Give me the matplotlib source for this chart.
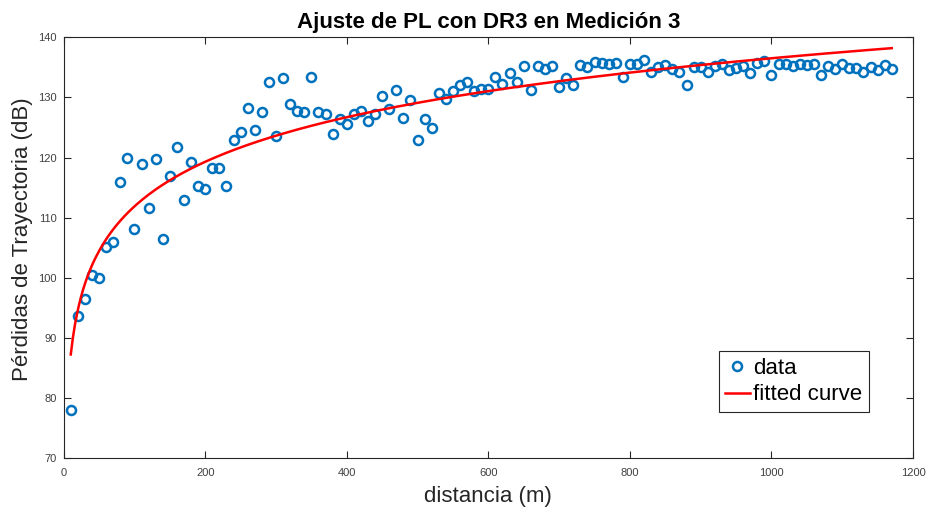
import numpy as np
import matplotlib.pyplot as plt

plt.rcParams['font.family'] = ['Liberation Sans', 'DejaVu Sans']

# distance (m) and measured path loss (dB)
dist = np.arange(10, 1171, 10)
pl = [78.0, 93.7, 96.5, 100.4, 99.9, 105.2, 106.0, 116.0, 120.0, 108.1,
      118.9, 111.7, 119.8, 106.4, 117.0, 121.7, 112.9, 119.3, 115.2, 114.7,
      118.2, 118.2, 115.3, 122.9, 124.3, 128.3, 124.6, 127.6, 132.6, 123.6,
      133.3, 128.9, 127.7, 127.6, 133.4, 127.6, 127.2, 124.0, 126.4, 125.6,
      127.2, 127.7, 126.1, 127.3, 130.3, 128.0, 131.2, 126.6, 129.5, 122.9,
      126.4, 124.9, 130.8, 129.7, 131.0, 132.0, 132.6, 131.0, 131.4, 131.4,
      133.4, 132.2, 134.1, 132.5, 135.2, 131.2, 135.2, 134.8, 135.3, 131.7,
      133.3, 132.0, 135.4, 135.0, 135.9, 135.8, 135.5, 135.8, 133.4, 135.6,
      135.6, 136.3, 134.2, 135.1, 135.4, 134.8, 134.2, 132.0, 135.1, 135.1,
      134.2, 135.3, 135.6, 134.5, 134.9, 135.3, 134.1, 135.7, 136.1, 133.7,
      135.6, 135.6, 135.2, 135.6, 135.4, 135.6, 133.7, 135.2, 134.8, 135.6,
      134.9, 134.9, 134.2, 135.1, 134.6, 135.4, 134.7]

# log-distance fit: PL = a + b*log10(d)
b, a = np.polyfit(np.log10(dist), pl, 1)
xf = np.linspace(dist.min(), dist.max(), 400)
yf = a + b*np.log10(xf)

fig = plt.figure(figsize=(9.3, 5.12), dpi=100)
ax = fig.add_axes([0.0685, 0.1049, 0.9132, 0.8222])

ax.plot(dist, pl, 'o', mfc='none', mec='#0072BD', mew=1.8, ms=6.5, label='data')
ax.plot(xf, yf, '-', color='red', lw=1.8, label='fitted curve')

ax.set_xlim(0, 1200)
ax.set_ylim(70, 140)
ax.set_xticks(np.arange(0, 1201, 200))
ax.set_yticks(np.arange(70, 141, 10))
ax.tick_params(direction='in', top=True, right=True, length=5, width=0.8,
               labelsize=8, colors='#262626', labelcolor='#404040')
ax.tick_params(axis='x', pad=7)
ax.tick_params(axis='y', pad=5)
for s in ax.spines.values():
    s.set_color('#262626')
    s.set_linewidth(0.8)

ax.set_title('Ajuste de PL con DR3 en Medición 3', fontsize=16, fontweight='bold', pad=7)
ax.set_xlabel('distancia (m)', fontsize=16, color='#262626')
ax.set_ylabel('Pérdidas de Trayectoria (dB)', fontsize=16, color='#262626')
ax.xaxis.set_label_coords(0.5, -0.066)
ax.yaxis.set_label_coords(-0.036, 0.52)

leg = ax.legend(loc='lower right', bbox_to_anchor=(0.948, 0.11), fontsize=16,
                fancybox=False, framealpha=1, edgecolor='#262626',
                handlelength=1.1, handletextpad=0.15, borderpad=0.3,
                labelspacing=0.25, borderaxespad=0)
leg.get_frame().set_linewidth(0.8)

fig.savefig('out.png', dpi=100)
